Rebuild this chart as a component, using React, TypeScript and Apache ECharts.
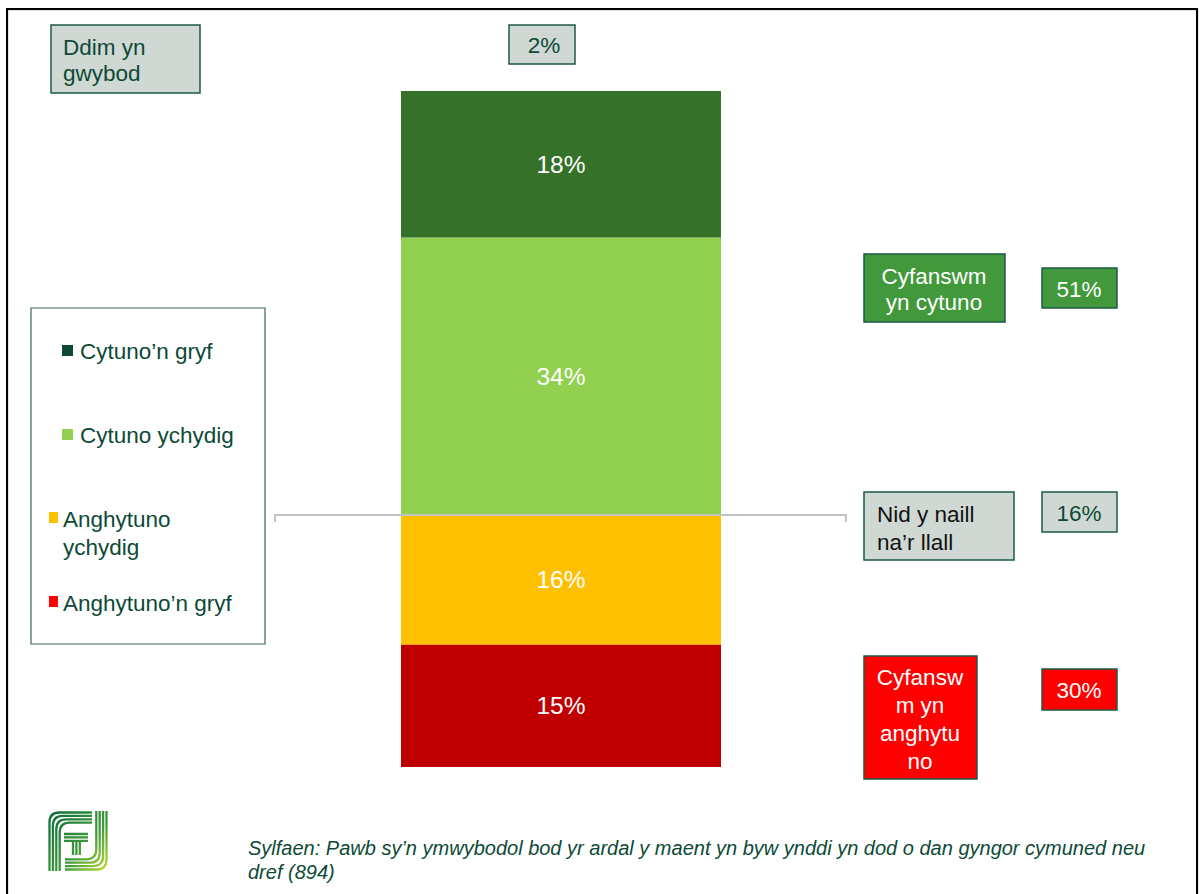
import React, { useEffect, useRef } from 'react';
import * as echarts from 'echarts';

// ---- data ----
const categories = ['Pawb'];
const seriesNames = ['Cytuno’n gryf', 'Cytuno ychydig', 'Anghytuno ychydig', 'Anghytuno’n gryf'];
const agreeStrong = [18];
const agreeSlight = [34];
const disagreeSlight = [16];
const disagreeStrong = [15];
const dontKnow = [2];
const neither = [16];
const totalAgree = [51];
const totalDisagree = [30];
const dontKnowLabel = 'Ddim yn\ngwybod';
const neitherLabel = 'Nid y naill\nna’r llall';
const totalAgreeLabel = 'Cyfanswm\nyn cytuno';
const totalDisagreeLabel = 'Cyfansw\nm yn\nanghytu\nno';
const footnoteLines = [
  'Sylfaen: Pawb sy’n ymwybodol bod yr ardal y maent yn byw ynddi yn dod o dan gyngor cymuned neu',
  'dref (894)',
];

const FONT = '"Liberation Sans", Arial, sans-serif';
const DARK = '#0c4a36';

// logo shape
function logoPath(): string {
  let d = '';
  for (let i = 0; i < 4; i++) {
    const o = 1.5 + i * 3.4;
    d += `M${o} 60 L${o} ${o + 10} Q${o} ${o} ${o + 10} ${o} L44 ${o} `;
    const x = 60 - o;
    d += `M${x} 0 L${x} ${50 - o} Q${x} ${x} ${50 - o} ${x} L17 ${x} `;
  }
  for (let i = 0; i < 3; i++) {
    const y = 23 + i * 3.4;
    d += `M16 ${y} L40 ${y} `;
    const x = 25 + i * 3.4;
    d += `M${x} ${31} L${x} ${44} `;
  }
  return d;
}
echarts.graphic.registerShape('logo', echarts.graphic.extendPath(logoPath(), {}) as any);

function rect(x: number, y: number, w: number, h: number, fill: string, stroke: string, lw = 1.5) {
  return { type: 'rect', shape: { x, y, width: w, height: h }, style: { fill, stroke, lineWidth: lw } };
}
function text(x: number, y: number, t: string, fill: string, size: number, align = 'left', lh = 26, extra: any = {}) {
  return {
    type: 'text',
    x,
    y,
    style: { text: t, fill, fontSize: size, fontFamily: FONT, align, verticalAlign: 'middle', lineHeight: lh, ...extra },
  };
}

export default function App() {
  const ref = useRef<HTMLDivElement>(null);
  useEffect(() => {
    if (!ref.current) return;
    const chart = echarts.init(ref.current, null, { renderer: 'svg' });
    const label = {
      show: true,
      position: 'inside',
      color: '#ffffff',
      fontSize: 24.5,
      fontFamily: FONT,
      formatter: (p: any) => Math.abs(p.value) + '%',
    };
    const graphic: any[] = [
      // outer frame
      { type: 'rect', shape: { x: 8, y: 10, width: 1190, height: 900 }, style: { fill: 'none', stroke: '#c8c8c8', lineWidth: 1 } },
      { type: 'rect', shape: { x: 7, y: 9, width: 1190, height: 900 }, style: { fill: 'none', stroke: '#000', lineWidth: 2 } },
      // don't know
      rect(51, 25, 149, 68, '#d0d8d3', '#1d5a47'),
      text(63, 60, dontKnowLabel, DARK, 22.5, 'left', 26),
      rect(509, 25, 66, 39, '#d0d8d3', '#1d5a47'),
      text(544, 45, dontKnow[0] + '%', DARK, 22.5, 'center'),
      // legend
      rect(31, 308, 234, 336, '#ffffff', '#3f6457', 1.2),
      rect(62, 345, 11, 11, '#0b4a34', 'none', 0),
      text(80, 351, seriesNames[0], DARK, 22.5),
      rect(62, 429, 11, 11, '#92d050', 'none', 0),
      text(80, 435, seriesNames[1], DARK, 22.5),
      rect(49, 512, 9, 11, '#ffc000', 'none', 0),
      text(63, 533, 'Anghytuno\nychydig', DARK, 22.5, 'left', 28),
      rect(49, 596, 9, 11, '#ff0000', 'none', 0),
      text(63, 603, seriesNames[3], DARK, 22.5),
      // zero line
      { type: 'polyline', shape: { points: [[275, 522], [275, 515], [846, 515], [846, 522]] }, style: { fill: 'none', stroke: '#bfc4c2', lineWidth: 2 }, z: 10 },
      // right summary boxes
      rect(864, 254, 141, 68, '#41993b', '#1d5a47'),
      text(934, 289, totalAgreeLabel, '#ffffff', 22.5, 'center', 26),
      rect(1042, 268, 75, 40, '#41993b', '#1d5a47'),
      text(1079, 289, totalAgree[0] + '%', '#ffffff', 22.5, 'center'),
      rect(864, 492, 150, 68, '#d0d8d3', '#1d5a47'),
      text(877, 528, neitherLabel, '#111111', 22.5, 'left', 28),
      rect(1042, 492, 75, 40, '#d0d8d3', '#1d5a47'),
      text(1079, 513, neither[0] + '%', DARK, 22.5, 'center'),
      rect(864, 656, 113, 123, '#ff0000', '#1d5a47'),
      text(920, 719, totalDisagreeLabel, '#ffffff', 22.5, 'center', 28),
      rect(1042, 669, 75, 41, '#ff0000', '#1d5a47'),
      text(1079, 690, totalDisagree[0] + '%', '#ffffff', 22.5, 'center'),
      // logo
      {
        type: 'logo',
        x: 48,
        y: 811,
        scaleX: 1,
        scaleY: 1,
        style: {
          fill: 'none',
          lineWidth: 2.3,
          stroke: new echarts.graphic.LinearGradient(0, 0, 1, 1, [
            { offset: 0, color: '#0d6b3b' },
            { offset: 0.6, color: '#3f9a3a' },
            { offset: 1, color: '#c2dc3a' },
          ]),
        },
      },
      // footnote
      text(248, 848, footnoteLines[0], DARK, 20, 'left', 24, { fontStyle: 'italic' }),
      text(248, 872, footnoteLines[1], DARK, 20, 'left', 24, { fontStyle: 'italic' }),
    ];
    chart.setOption({
      animation: false,
      grid: { left: 401, top: 91, width: 320, height: 676 },
      xAxis: { type: 'category', data: categories, show: false },
      yAxis: { type: 'value', min: -31, max: 52, show: false },
      series: [
        { name: seriesNames[1], type: 'bar', stack: 'all', data: agreeSlight, barWidth: '100%', itemStyle: { color: '#92d050' }, label },
        { name: seriesNames[0], type: 'bar', stack: 'all', data: agreeStrong, barWidth: '100%', itemStyle: { color: '#357129' }, label },
        { name: seriesNames[2], type: 'bar', stack: 'all', data: disagreeSlight.map((v) => -v), barWidth: '100%', itemStyle: { color: '#ffc000' }, label },
        { name: seriesNames[3], type: 'bar', stack: 'all', data: disagreeStrong.map((v) => -v), barWidth: '100%', itemStyle: { color: '#c00000' }, label },
      ],
      graphic,
    });
    return () => chart.dispose();
  }, []);
  return (
    <div
      ref={ref}
      style={{ position: 'absolute', left: 0, top: 0, width: 1204, height: 894, background: '#ffffff' }}
    />
  );
}
